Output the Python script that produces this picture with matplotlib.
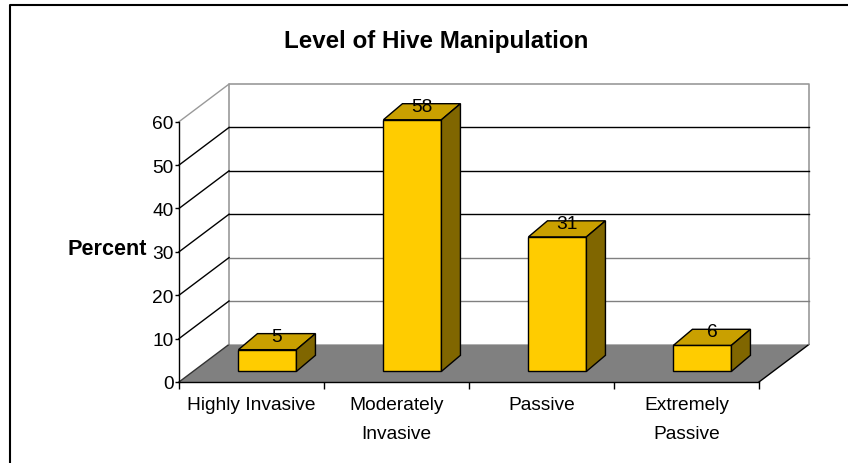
import matplotlib.pyplot as plt
from matplotlib.patches import Polygon
from matplotlib.lines import Line2D

categories = ['Highly Invasive', 'Moderately\nInvasive', 'Passive', 'Extremely\nPassive']
percent = [5, 58, 31, 6]
y_ticks = [0, 10, 20, 30, 40, 50, 60]

plt.rcParams['font.family'] = ['Liberation Sans', 'DejaVu Sans']

# fake 3d: oblique offsets in data units (x = category, y = percent)
wall_dx, wall_dy = 0.345, 8.67
bar_x0, bar_y0 = 0.11, 2.45      # how far the bar front sits behind the axis
bar_dx, bar_dy = 0.131, 3.7      # bar depth
bar_w = 0.4

front_col = '#FFCC00'
top_col = '#C9A000'
side_col = '#806600'
fs = 13.8

fig = plt.figure(figsize=(8.48, 4.64), dpi=100)
ax = fig.add_axes([179 / 848, 81 / 464, 580 / 848, 260.3 / 464])
ax.set_xlim(0, len(categories))
ax.set_ylim(0, y_ticks[-1])
ax.patch.set_visible(False)

n = len(categories)
top = y_ticks[-1]

# floor
ax.add_patch(Polygon([(0, 0), (n, 0), (n + wall_dx, wall_dy), (wall_dx, wall_dy)],
                     facecolor='#808080', edgecolor='none', clip_on=False, zorder=0))
ax.plot([0, wall_dx], [0, wall_dy], color='#333333', lw=1, clip_on=False, zorder=1)
ax.plot([n, n + wall_dx], [0, wall_dy], color='black', lw=1, clip_on=False, zorder=1)

# back wall + grid
ax.plot([wall_dx, wall_dx, n + wall_dx, n + wall_dx],
        [wall_dy, top + wall_dy, top + wall_dy, wall_dy],
        color='#999999', lw=1.2, clip_on=False, zorder=1)
for v in y_ticks[1:-1]:
    c = 'black' if v >= 30 else '#808080'
    ax.plot([wall_dx, n + wall_dx], [v + wall_dy] * 2, color=c, lw=1, clip_on=False, zorder=1)
for v in y_ticks[1:]:
    c = 'black' if v < top else '#999999'
    ax.plot([0, wall_dx], [v, v + wall_dy], color=c, lw=1, clip_on=False, zorder=1)

# bars
xs = [i + 0.5 + bar_x0 for i in range(n)]
ax.bar(xs, percent, width=bar_w, bottom=bar_y0, color=front_col,
       edgecolor='black', lw=1, zorder=3, clip_on=False)
for x, v in zip(xs, percent):
    xl, xr = x - bar_w / 2, x + bar_w / 2
    yt = bar_y0 + v
    ax.add_patch(Polygon([(xl, yt), (xr, yt), (xr + bar_dx, yt + bar_dy), (xl + bar_dx, yt + bar_dy)],
                         facecolor=top_col, edgecolor='black', lw=1, clip_on=False, zorder=3))
    ax.add_patch(Polygon([(xr, bar_y0), (xr + bar_dx, bar_y0 + bar_dy), (xr + bar_dx, yt + bar_dy), (xr, yt)],
                         facecolor=side_col, edgecolor='black', lw=1, clip_on=False, zorder=3))
    ax.text(x + bar_dx / 2, yt + bar_dy - 0.6, str(v), ha='center', va='center',
            fontsize=fs, zorder=5)

# axes
for s in ['top', 'right']:
    ax.spines[s].set_visible(False)
for s in ['left', 'bottom']:
    ax.spines[s].set_color('black')
    ax.spines[s].set_linewidth(1)
    ax.spines[s].set_zorder(2)

ax.set_yticks(y_ticks)
ax.tick_params(axis='y', length=3, width=1, pad=1, labelsize=fs)
ax.set_xticks(range(n + 1))
ax.set_xticklabels([])
ax.set_xticks([i + 0.5 for i in range(n)], minor=True)
ax.set_xticklabels(categories, minor=True, fontsize=fs, linespacing=1.95)
ax.tick_params(axis='x', which='major', length=5, width=1)
ax.tick_params(axis='x', which='minor', length=0, pad=10)

ax.set_ylabel('Percent', rotation=0, fontsize=15.6, fontweight='bold', ha='right', va='center')
ax.yaxis.set_label_coords(-0.055, 0.511)

fig.text(435.8 / 848, 1 - 41.5 / 464, 'Level of Hive Manipulation', fontsize=17.4,
         fontweight='bold', ha='center', va='center')

# chart border (only top and left show)
fig.add_artist(Line2D([10 / 848, 10 / 848, 1], [0, 1 - 6 / 464, 1 - 6 / 464],
                      transform=fig.transFigure, color='black', lw=1.5))

fig.savefig('out.png', dpi=100)
